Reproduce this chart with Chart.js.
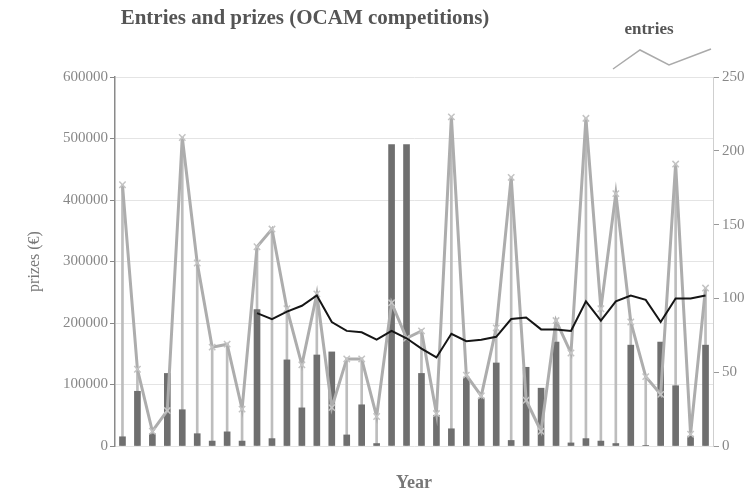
<!DOCTYPE html>
<html lang="en">
<head>
  <meta charset="UTF-8">
  <title>Entries and prizes (OCAM competitions)</title>
  <script src="https://cdn.jsdelivr.net/npm/chart.js"></script>
  <style>
    body { margin: 0; background: #fff; }
  </style>
</head>
<body>
  <canvas id="ocamChart" width="752" height="492"></canvas>

  <script>
    // one entry per competition year (x axis has no tick labels)
    const years = ["1971", "1972", "1973", "1974", "1975", "1976", "1977", "1978", "1979", "1980",
                   "1981", "1982", "1983", "1984", "1985", "1986", "1987", "1988", "1989", "1990",
                   "1991", "1992", "1993", "1994", "1995", "1996", "1997", "1998", "1999", "2000",
                   "2001", "2002", "2003", "2004", "2005", "2006", "2007", "2008", "2009", "2010"];

    // prizes in euro (left axis)
    const prizes = [15000, 89000, 20000, 118000, 59000, 20000, 8000, 23000, 8000, 222000,
                    12000, 140000, 62000, 148000, 153000, 18000, 67000, 4000, 490000, 490000,
                    118000, 50000, 28000, 112000, 78000, 135000, 9000, 128000, 94000, 169000,
                    5000, 12000, 8000, 4000, 164000, 1000, 169000, 98000, 16000, 164000];

    // number of entries (right axis)
    const entries = [177, 52, 10, 24, 209, 124, 67, 69, 25, 135,
                     147, 93, 55, 103, 26, 59, 59, 20, 97, 73,
                     78, 22, 223, 48, 34, 80, 182, 31, 10, 85,
                     63, 222, 93, 171, 84, 47, 35, 191, 8, 107];

    // black trend line of entries (right axis), starts at the 10th year
    const entriesTrend = [null, null, null, null, null, null, null, null, null, 90,
                          86, 91, 95, 102, 84, 78, 77, 72, 78, 73,
                          66, 60, 76, 71, 72, 74, 86, 87, 79, 79,
                          78, 98, 85, 98, 102, 99, 84, 100, 100, 102];

    const prizeTicks = [0, 100000, 200000, 300000, 400000, 500000, 600000];
    const entryTicks = [0, 50, 100, 150, 200, 250];

    const serif = "'Liberation Serif', 'DejaVu Serif', serif";

    // title and the small "entries" legend sit outside the plot area
    const decor = {
      id: "decor",
      afterDraw(chart) {
        const ctx = chart.ctx;
        ctx.save();
        ctx.fillStyle = "#555";
        ctx.textAlign = "center";
        ctx.textBaseline = "middle";
        ctx.font = "bold 21px " + serif;
        ctx.fillText("Entries and prizes (OCAM competitions)", 305, 19);
        ctx.font = "bold 17px " + serif;
        ctx.fillText("entries", 649, 30);

        ctx.strokeStyle = "#aaa";
        ctx.lineWidth = 1.5;
        ctx.beginPath();
        ctx.moveTo(613, 69);
        ctx.lineTo(640, 50);
        ctx.lineTo(669, 65);
        ctx.lineTo(711, 49);
        ctx.stroke();
        ctx.restore();
      }
    };

    new Chart(document.getElementById("ocamChart").getContext("2d"), {
      data: {
        labels: years,
        datasets: [
          {
            type: "line",
            label: "trend",
            data: entriesTrend,
            yAxisID: "yEntries",
            borderColor: "#151515",
            borderWidth: 2,
            pointRadius: 0,
            tension: 0,
            order: 0
          },
          {
            type: "line",
            label: "entries",
            data: entries,
            yAxisID: "yEntries",
            borderColor: "#adadad",
            borderWidth: 3,
            pointStyle: "crossRot",
            pointRadius: 4.5,
            pointBorderColor: "#c4c4c4",
            pointBorderWidth: 1.5,
            tension: 0,
            order: 1
          },
          {
            type: "bar",
            label: "prizes",
            data: prizes,
            yAxisID: "yPrize",
            backgroundColor: "#6f6f6f",
            barThickness: 6,
            grouped: false,
            order: 2
          },
          {
            type: "bar",
            label: "entries (drop)",
            data: entries,
            yAxisID: "yEntries",
            backgroundColor: "#bdbdbd",
            barThickness: 2,
            grouped: false,
            order: 3
          }
        ]
      },
      options: {
        responsive: false,
        animation: false,
        layout: { padding: { top: 77, left: 0, right: 0, bottom: 0 } },
        plugins: {
          legend: { display: false },
          tooltip: { enabled: false }
        },
        scales: {
          x: {
            offset: true,
            grid: { display: false },
            border: { display: false },
            ticks: { display: false },
            title: {
              display: true,
              text: "Year",
              color: "#777",
              font: { family: serif, size: 18, weight: "bold", lineHeight: 1 },
              padding: { top: 0, bottom: 0 }
            },
            afterFit(scale) { scale.height = 46; }
          },
          yPrize: {
            position: "left",
            min: prizeTicks[0],
            max: prizeTicks[prizeTicks.length - 1],
            ticks: {
              stepSize: prizeTicks[1] - prizeTicks[0],
              color: "#888",
              font: { family: serif, size: 15 },
              padding: 2,
              callback: v => String(v)
            },
            grid: { color: "#e4e4e4", tickColor: "#888", tickLength: 5 },
            border: { color: "#8a8a8a", width: 1.5 },
            title: {
              display: true,
              text: "prizes (€)",
              color: "#777",
              font: { family: serif, size: 16 },
              padding: { top: 25, bottom: 0 }
            },
            afterFit(scale) { scale.width = 115; }
          },
          yEntries: {
            position: "right",
            min: entryTicks[0],
            max: entryTicks[entryTicks.length - 1],
            ticks: {
              stepSize: entryTicks[1] - entryTicks[0],
              color: "#888",
              font: { family: serif, size: 15 },
              padding: 3
            },
            grid: { drawOnChartArea: false, tickColor: "#999", tickLength: 6 },
            border: { color: "#cfcfcf", width: 1 },
            afterFit(scale) { scale.width = 39; }
          }
        }
      },
      plugins: [decor]
    });
  </script>
</body>
</html>
